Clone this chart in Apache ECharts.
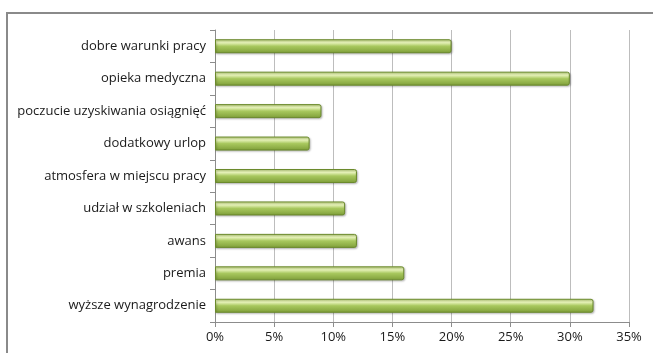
<!DOCTYPE html>
<html>
<head>
<meta charset="utf-8">
<script src="https://cdn.jsdelivr.net/npm/echarts@6/dist/echarts.min.js"></script>
<style>
  html, body { margin: 0; padding: 0; background: #fff; }
  #chart { width: 653px; height: 353px; }
</style>
</head>
<body>
<div id="chart"></div>
<script>
// Categories listed bottom-to-top (ECharts category y-axis starts at the bottom)
const categories = [
  'wyższe wynagrodzenie',
  'premia',
  'awans',
  'udział w szkoleniach',
  'atmosfera w miejscu pracy',
  'dodatkowy urlop',
  'poczucie uzyskiwania osiągnięć',
  'opieka medyczna',
  'dobre warunki pracy'
];
// Share of respondents, in percent
const values = [32, 16, 12, 11, 12, 8, 9, 30, 20];
const axisMax = 35;
const axisStep = 5;

const chart = echarts.init(document.getElementById('chart'), null, { renderer: 'canvas' });

const barFill = new echarts.graphic.LinearGradient(0, 0, 0, 1, [
  { offset: 0, color: '#c9df8a' },
  { offset: 0.25, color: '#e6f2b8' },
  { offset: 0.5, color: '#a8c85e' },
  { offset: 1, color: '#7e9e38' }
]);

chart.setOption({
  animation: false,
  textStyle: { fontFamily: 'Open Sans, sans-serif' },
  graphic: [{
    type: 'rect',
    shape: { x: 7, y: 13, width: 700, height: 400 },
    style: { fill: 'none', stroke: '#8a8a8a', lineWidth: 2 },
    silent: true,
    z: -1
  }],
  grid: { left: 215, right: 24, top: 30, bottom: 31, containLabel: false },
  xAxis: {
    type: 'value',
    min: 0,
    max: axisMax,
    interval: axisStep,
    axisLine: { show: true, lineStyle: { color: '#8c8c8c', width: 1 } },
    axisTick: { show: true, length: 5, lineStyle: { color: '#8c8c8c' } },
    splitLine: { show: true, lineStyle: { color: '#bdbdbd', width: 1 } },
    axisLabel: {
      formatter: v => v + '%',
      color: '#1a1a1a',
      fontSize: 13,
      margin: 9
    }
  },
  yAxis: {
    type: 'category',
    data: categories,
    axisLine: { show: true, lineStyle: { color: '#8c8c8c', width: 1 } },
    axisTick: { show: true, length: 5, lineStyle: { color: '#8c8c8c' } },
    axisLabel: { color: '#1a1a1a', fontSize: 13, margin: 9 }
  },
  series: [{
    type: 'bar',
    data: values,
    barWidth: 14,
    itemStyle: {
      color: barFill,
      borderColor: '#6b8a2c',
      borderWidth: 1,
      borderRadius: [0, 2, 2, 0],
      shadowColor: 'rgba(0,0,0,0.25)',
      shadowBlur: 2,
      shadowOffsetX: 1,
      shadowOffsetY: 1
    }
  }]
});
</script>
</body>
</html>
